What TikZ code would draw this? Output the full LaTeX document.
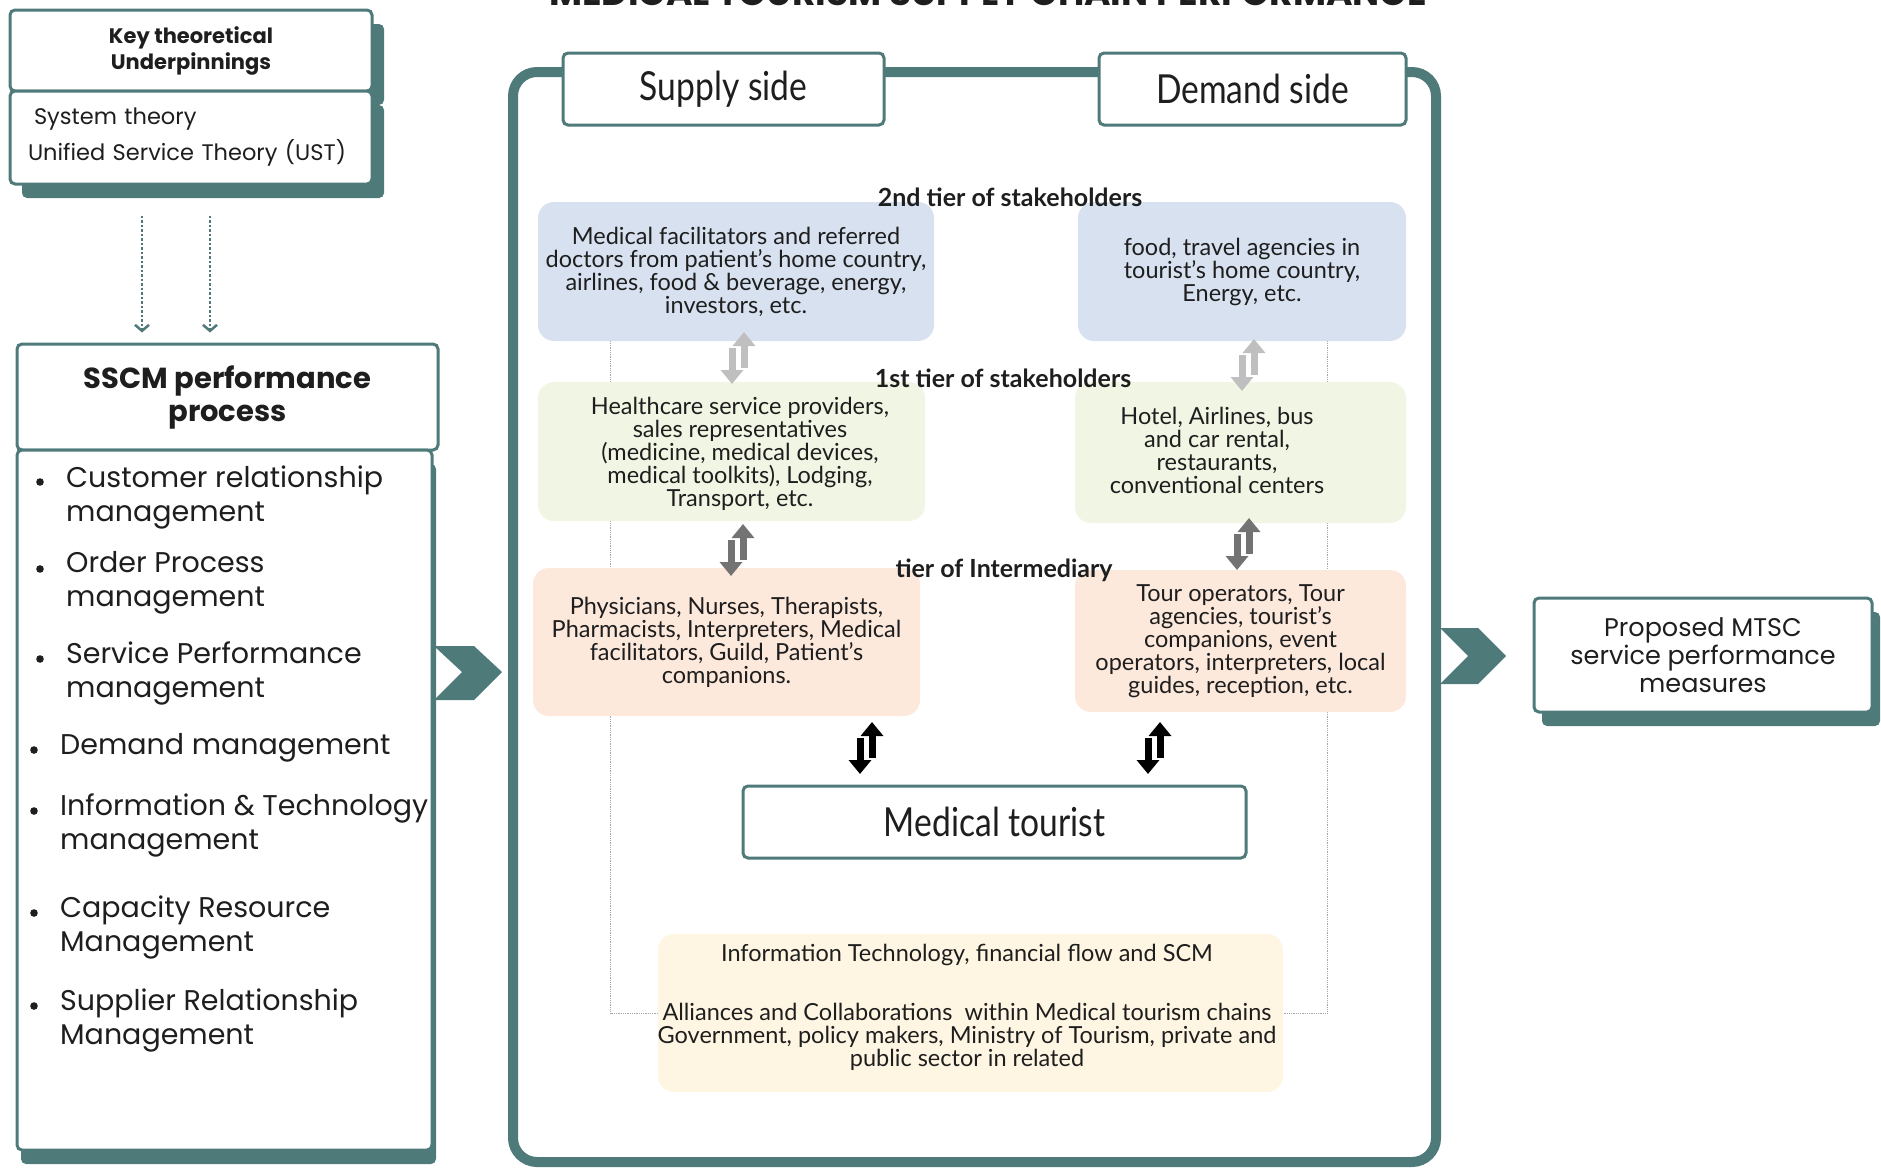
\documentclass[tikz,border=0pt]{standalone}
\usepackage{fontspec}
\setmainfont{Poppins}
\newfontfamily\condfont[FakeStretch=0.84]{Lato}
\newfontfamily\plainfont{Lato}
\usetikzlibrary{arrows.meta,shadows,backgrounds}

\definecolor{teal1}{HTML}{4F7A7A}
\definecolor{blu1}{HTML}{D7E1F0}
\definecolor{grn1}{HTML}{F1F5E3}
\definecolor{pch1}{HTML}{FDE8DC}
\definecolor{ylw1}{HTML}{FEF6E2}
\definecolor{ink}{HTML}{1E1E1E}

\begin{document}
\begin{tikzpicture}[x=1pt,y=-1pt,
	every node/.style={text=ink},
	tealbox/.style={draw=teal1, line width=3pt, fill=white, rounded corners=5pt, align=center, inner sep=0pt},
	tealshadow/.style={drop shadow={shadow xshift=#1, shadow yshift=-14pt, fill=teal1, opacity=1}},
	softbox/.style={fill=#1, rounded corners=16pt, align=center, inner sep=0pt, font=\plainfont\fontsize{23.5}{23}\selectfont},
	boxtext/.style={align=center, inner sep=0pt, font=\plainfont\fontsize{23.5}{23}\selectfont},
	headtext/.style={font=\condfont\fontsize{40}{40}\selectfont},
	tier/.style={inner sep=0pt, font=\plainfont\bfseries\fontsize{25}{26}\selectfont},
	dotarrow/.style={teal1, line width=2.5pt, dotted, -{Straight Barb[length=6pt,width=14pt,line width=2.5pt]}},
	guide/.style={gray!70, line width=0.8pt, densely dotted},
	dblarr/.pic={
		\draw[line width=7pt,-{Triangle[length=14pt,width=22pt]}] (-6,-10) -- (-6,26);
		\draw[line width=7pt,-{Triangle[length=14pt,width=22pt]}] (6,10) -- (6,-26);
	}]
	\useasboundingbox (0,0) rectangle (1881,1170);

	% title, cut by the top edge
	\node[anchor=base, font=\bfseries\fontsize{36}{36}\selectfont] (title) at (988,5) {MEDICAL TOURISM SUPPLY CHAIN PERFORMANCE};

	% theories
	\node[tealbox, tealshadow=12pt, minimum width=362, minimum height=81, font=\bfseries\fontsize{21}{26}\selectfont] (keyhead) at (191,50.5) {Key theoretical\\Underpinnings};
	\node[tealbox, tealshadow=12pt, minimum width=362, minimum height=93, text width=326, align=left, font=\fontsize{22.5}{36}\selectfont] (keybody) at (191,137.5) {\hspace*{6pt}System theory\\Unified Service Theory (UST)};

	% SSCM process
	\node[tealbox, minimum width=421, minimum height=106, font=\bfseries\fontsize{29}{33}\selectfont] (ssmhead) at (227.5,397) {SSCM performance\\process};
	\node[tealbox, tealshadow=4pt, minimum width=415, minimum height=700] (ssmbody) at (224.5,800) {};
	\draw[dotarrow] ([xshift=-49pt,yshift=-30pt]keybody.south) -- ([xshift=-85.5pt,yshift=10pt]ssmhead.north);
	\draw[dotarrow] ([xshift=19pt,yshift=-30pt]keybody.south) -- ([xshift=-17.5pt,yshift=10pt]ssmhead.north);
	\foreach \by/\y/\bx/\tx/\txt in {482/497/40/66/{Customer relationship\\management},
		569/583/40/66/{Order Process\\management},
		659/673/40/66/{Service Performance\\management},
		750/748/34/60/{Demand management},
		811/825/34/60/{Information \& Technology\\management},
		913/927/34/60/{Capacity Resource\\Management},
		1006/1020/34/60/{Supplier Relationship\\Management}} {
		\fill[ink] (\bx,\by) circle (3.8);
		\node[anchor=west, align=left, inner sep=0pt, font=\fontsize{28.5}{34}\selectfont] (item\by) at (\tx,\y) {\txt};
	}
	\fill[teal1] (434,646) -- (474,646) -- (502,672) -- (474,700) -- (434,700) -- (462,672) -- cycle;

	% supply chain frame
	\draw[teal1, line width=10pt, rounded corners=24pt] (513,72) rectangle (1436,1162);
	\node[tealbox, minimum width=321, minimum height=72, headtext] (supply) at (723.5,89) {\raisebox{-5pt}{Supply side}};
	\node[tealbox, minimum width=307, minimum height=72, headtext] (demand) at (1252.5,89) {\raisebox{-3pt}{Demand side}};

	\node[softbox=blu1, minimum width=396, minimum height=139] (bluL) at (736,271.5) {Medical facilitators and referred\\doctors from patient’s home country,\\airlines, food \& beverage, energy,\\investors, etc.};
	\node[softbox=blu1, minimum width=328, minimum height=139] (bluR) at (1242,271.5) {food, travel agencies in\\tourist’s home country,\\Energy, etc.};
	\node[softbox=grn1, minimum width=387, minimum height=139] (grnL) at (731.5,451.5) {};
	\node[boxtext] (grnLtxt) at (740,454) {Healthcare service providers,\\sales representatives\\(medicine, medical devices,\\medical toolkits), Lodging,\\Transport, etc.};
	\node[softbox=grn1, minimum width=331, minimum height=141] (grnR) at (1240.5,452.5) {};
	\node[boxtext] (grnRtxt) at (1217,450) {Hotel, Airlines, bus\\and car rental,\\restaurants,\\conventional centers};
	\node[softbox=pch1, minimum width=387, minimum height=148] (pchL) at (726.5,642) {Physicians, Nurses, Therapists,\\Pharmacists, Interpreters, Medical\\facilitators, Guild, Patient’s\\companions.};
	\node[softbox=pch1, minimum width=331, minimum height=142] (pchR) at (1240.5,641) {Tour operators, Tour\\agencies, tourist’s\\companions, event\\operators, interpreters, local\\guides, reception, etc.};

	\node[tier] (tier2) at (1010,197) {2nd tier of stakeholders};
	\node[tier] (tier1) at (1003,378) {1st tier of stakeholders};
	\node[tier] (tier0) at (1004,570) {tier of Intermediary};

	% two way flows
	\pic[color=gray!50] at (738,358) {dblarr};
	\pic[color=gray!50] at (1248,365) {dblarr};
	\pic[color=gray!110] at (737,550) {dblarr};
	\pic[color=gray!110] at (1243,544) {dblarr};
	\pic[color=black] at (866,748) {dblarr};
	\pic[color=black] at (1154,748) {dblarr};

	\node[tealbox, minimum width=503, minimum height=72, headtext] (tourist) at (994.5,822) {Medical tourist};
	\node[softbox=ylw1, minimum width=625, minimum height=158] (ylw) at (970.5,1013) {};
	\node[boxtext] (ylwtxt) at (967,1007) {Information Technology, financial flow and SCM\\[36pt]Alliances and Collaborations\ \ within Medical tourism chains\\Government, policy makers, Ministry of Tourism, private and\\public sector in related};

	\begin{scope}[on background layer]
		\draw[guide] ([xshift=73pt]bluL.south west) |- (ylw.west);
		\draw[guide] ([xshift=-79pt]bluR.south east) |- (ylw.east);
	\end{scope}

	% outcome
	\fill[teal1] (1440,628) -- (1478,628) -- (1506,656) -- (1478,684) -- (1440,684) -- (1468,656) -- cycle;
	\node[tealbox, tealshadow=8pt, minimum width=338, minimum height=114, font=\fontsize{25.5}{28}\selectfont] (mtsc) at (1703,655) {Proposed MTSC\\service performance\\measures};
\end{tikzpicture}
\end{document}
